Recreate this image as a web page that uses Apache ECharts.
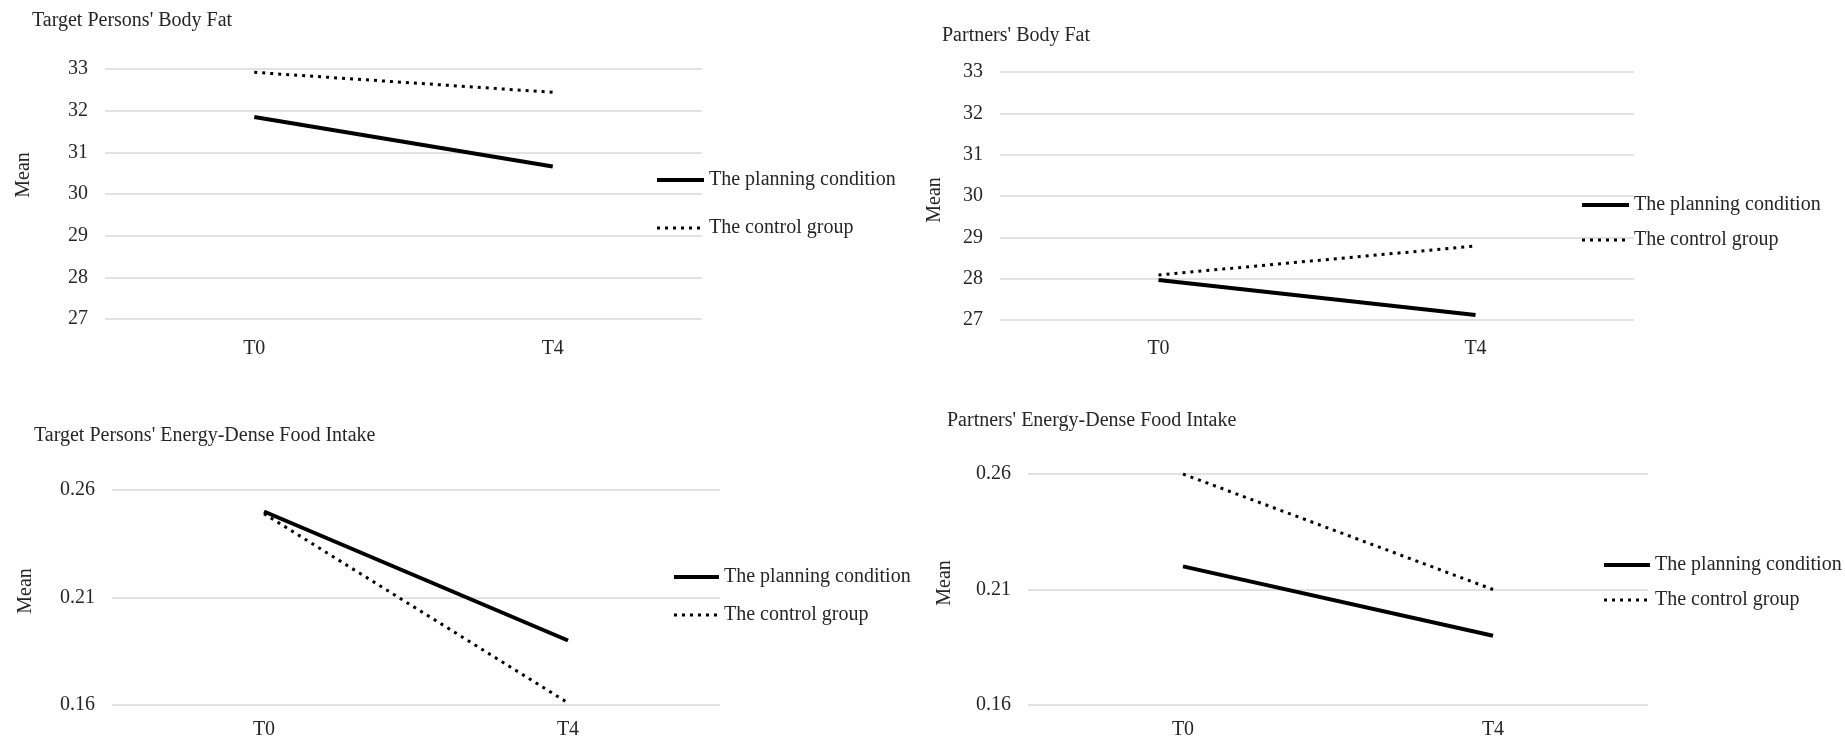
<!DOCTYPE html>
<html>
<head>
<meta charset="utf-8">
<script src="https://cdn.jsdelivr.net/npm/echarts@6/dist/echarts.min.js"></script>
<style>
html,body{margin:0;padding:0;background:#fff;}
#chart{width:1845px;height:740px;}
</style>
</head>
<body>
<div id="chart"></div>
<script>
// ---- data ----
const categories = ['T0', 'T4'];
const seriesNames = ['The planning condition', 'The control group'];
const panelTitles = [
  "Target Persons' Body Fat",
  "Partners' Body Fat",
  "Target Persons' Energy-Dense Food Intake",
  "Partners' Energy-Dense Food Intake"
];
const axisName = 'Mean';
const tpFatPlanning = [31.85, 30.66];
const tpFatControl = [32.92, 32.44];
const pFatPlanning = [27.97, 27.12];
const pFatControl = [28.09, 28.79];
const tpFoodPlanning = [0.250, 0.190];
const tpFoodControl = [0.249, 0.161];
const pFoodPlanning = [0.220, 0.190];
const pFoodControl = [0.260, 0.210];
const fatAxis = { min: 27, max: 33, interval: 1 };
const foodAxis = { min: 0.16, max: 0.26, interval: 0.05 };

// ---- layout ----
const FONT = "'Liberation Serif', 'Times New Roman', serif";
const TXT = '#262626';
const solidStyle = { color: '#000', width: 4, type: 'solid' };
const dotStyle = { color: '#000', width: 3, type: [3, 5], cap: 'butt' };
const panels = [
  { grid: { left: 105, top: 69, width: 597, height: 250 }, axis: fatAxis, planning: tpFatPlanning, control: tpFatControl,
    title: { left: 32, top: 11 }, legend: { left: 655, top: 170, itemGap: 28, itemWidth: 47 }, mean: [24, 175], xMargin: 20 },
  { grid: { left: 1000, top: 72, width: 634, height: 248 }, axis: fatAxis, planning: pFatPlanning, control: pFatControl,
    title: { left: 942, top: 26 }, legend: { left: 1580, top: 195, itemGap: 15, itemWidth: 47 }, mean: [935, 200], xMargin: 19 },
  { grid: { left: 112, top: 490, width: 608, height: 216 }, axis: foodAxis, planning: tpFoodPlanning, control: tpFoodControl,
    title: { left: 34, top: 426 }, legend: { left: 672, top: 567, itemGap: 18, itemWidth: 45 }, mean: [26, 591], xMargin: 15 },
  { grid: { left: 1028, top: 474, width: 620, height: 232 }, axis: foodAxis, planning: pFoodPlanning, control: pFoodControl,
    title: { left: 947, top: 411 }, legend: { left: 1602, top: 555, itemGap: 15, itemWidth: 46 }, mean: [945, 583], xMargin: 15 }
];

const option = {
  backgroundColor: '#fff',
  animation: false,
  textStyle: { fontFamily: FONT, color: TXT },
  title: [], grid: [], xAxis: [], yAxis: [], legend: [], series: [], graphic: []
};

panels.forEach((p, i) => {
  option.title.push({
    text: panelTitles[i], left: p.title.left, top: p.title.top, padding: 0,
    textStyle: { fontFamily: FONT, fontSize: 20, fontWeight: 'normal', color: TXT }
  });
  option.grid.push(Object.assign({ containLabel: false }, p.grid));
  option.xAxis.push({
    type: 'category', gridIndex: i, data: categories, boundaryGap: true,
    axisLine: { show: false }, axisTick: { show: false }, splitLine: { show: false },
    axisLabel: { fontFamily: FONT, fontSize: 20, color: TXT, margin: p.xMargin }
  });
  option.yAxis.push({
    type: 'value', gridIndex: i, min: p.axis.min, max: p.axis.max, interval: p.axis.interval,
    axisLine: { show: false }, axisTick: { show: false },
    splitLine: { show: true, lineStyle: { color: '#d9d9d9', width: 1.5 } },
    axisLabel: { fontFamily: FONT, fontSize: 20, color: TXT, margin: 17 }
  });
  option.legend.push({
    orient: 'vertical', left: p.legend.left, top: p.legend.top, itemGap: p.legend.itemGap,
    itemWidth: p.legend.itemWidth, itemHeight: 14, padding: 0, selectedMode: false,
    itemStyle: { opacity: 0 },
    data: [
      { name: seriesNames[0], lineStyle: solidStyle, itemStyle: { opacity: 0 } },
      { name: seriesNames[1], lineStyle: dotStyle, itemStyle: { opacity: 0 } }
    ],
    textStyle: { fontFamily: FONT, fontSize: 20, color: TXT }
  });
  option.series.push({
    name: seriesNames[0], type: 'line', xAxisIndex: i, yAxisIndex: i, data: p.planning,
    symbol: 'none', lineStyle: solidStyle, itemStyle: { color: '#000' }
  });
  option.series.push({
    name: seriesNames[1], type: 'line', xAxisIndex: i, yAxisIndex: i, data: p.control,
    symbol: 'none', lineStyle: dotStyle, itemStyle: { color: '#000' }
  });
  option.graphic.push({
    type: 'text', x: p.mean[0], y: p.mean[1], rotation: Math.PI / 2,
    style: { text: axisName, font: '20px ' + FONT, fill: TXT, align: 'center', verticalAlign: 'middle' }
  });
});

const chart = echarts.init(document.getElementById('chart'), null, { renderer: 'canvas' });
chart.setOption(option);
</script>
</body>
</html>
